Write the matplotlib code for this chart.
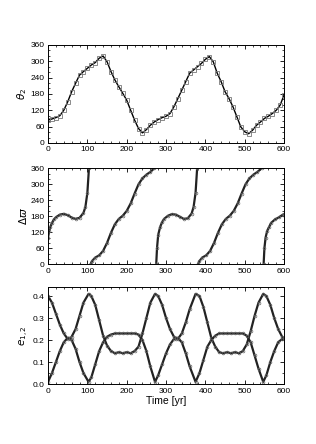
import numpy as np
import matplotlib
matplotlib.use('Agg')
import matplotlib.pyplot as plt
from matplotlib.ticker import MultipleLocator

plt.rcParams['font.family'] = ['Liberation Sans', 'DejaVu Sans']
plt.rcParams['mathtext.fontset'] = 'dejavusans'

# theta_2 (deg) vs time (yr)
th_t = [0, 10, 20, 30, 40, 50, 60, 70, 80, 90, 100, 110, 120, 130, 140, 150, 160, 170, 180, 190,
        200, 210, 220, 230, 240, 250, 260, 270, 280, 290, 300, 310, 320, 330, 340, 350, 360, 370,
        380, 390, 400, 410, 420, 430, 440, 450, 460, 470, 480, 490, 500, 510, 520, 530, 540, 550,
        560, 570, 580, 590, 600]
th_v = [84, 88, 93, 100, 120, 151, 188, 219, 249, 262, 274, 286, 295, 311, 319, 298, 262, 231, 206, 182,
        157, 120, 84, 53, 37, 49, 65, 77, 86, 93, 98, 108, 133, 163, 194, 225, 256, 268,
        280, 292, 307, 317, 298, 256, 225, 188, 163, 133, 96, 59, 41, 34, 47, 65, 77, 90,
        98, 108, 120, 139, 176]

# delta varpi (deg), NaN breaks at the 360 -> 0 wraps
nan = np.nan
dw_t = [0, 3, 6, 10, 15, 20, 30, 40, 50, 60, 70, 80, 90, 95, 100, 104, nan,
        108, 112, 120, 130, 140, 150, 160, 170, 180, 190, 200, 210, 220, 230, 240, 250, 260, 270, nan,
        275, 277, 280, 285, 290, 295, 305, 315, 325, 335, 345, 355, 365, 370, 375, 379, nan,
        381, 385, 392, 402, 412, 422, 432, 442, 452, 462, 472, 482, 492, 502, 512, 522, 532, 543, nan,
        548, 550, 553, 557, 562, 567, 577, 587, 597, 600]
dw_v = [100, 125, 140, 155, 168, 176, 186, 189, 184, 175, 170, 174, 192, 215, 268, 360, nan,
        0, 12, 25, 33, 50, 80, 118, 150, 170, 182, 200, 228, 265, 300, 322, 336, 346, 360, nan,
        0, 60, 110, 140, 158, 170, 182, 188, 186, 178, 170, 172, 190, 215, 268, 360, nan,
        0, 12, 25, 33, 50, 80, 118, 150, 170, 182, 200, 228, 265, 300, 322, 336, 346, 360, nan,
        0, 60, 100, 125, 140, 155, 168, 176, 186, 188]

# eccentricities
e_t = [0, 10, 20, 30, 40, 50, 55, 60, 70, 80, 90, 103, 110, 120, 130, 140, 150, 160, 170, 180,
       190, 200, 210, 220, 230, 240, 250, 260, 272, 280, 290, 300, 310, 320, 325, 330, 340, 350,
       360, 375, 385, 395, 405, 415, 425, 435, 445, 455, 465, 475, 485, 495, 505, 515, 525, 535,
       547, 555, 565, 575, 585, 595, 600]
e1 = [0.40, 0.37, 0.32, 0.27, 0.23, 0.205, 0.205, 0.215, 0.25, 0.31, 0.37, 0.41, 0.40, 0.36, 0.29, 0.22,
      0.175, 0.15, 0.14, 0.145, 0.14, 0.145, 0.14, 0.15, 0.17, 0.23, 0.30, 0.37, 0.41, 0.40, 0.36, 0.30,
      0.25, 0.215, 0.205, 0.205, 0.23, 0.28, 0.34, 0.41, 0.40, 0.35, 0.28, 0.21, 0.17, 0.145, 0.14,
      0.145, 0.14, 0.145, 0.14, 0.15, 0.18, 0.24, 0.31, 0.37, 0.41, 0.40, 0.36, 0.30, 0.25, 0.215, 0.205]
e2 = [0.01, 0.05, 0.10, 0.15, 0.19, 0.21, 0.21, 0.20, 0.16, 0.10, 0.05, 0.01, 0.03, 0.09, 0.15, 0.19,
      0.215, 0.225, 0.23, 0.23, 0.23, 0.23, 0.23, 0.23, 0.225, 0.20, 0.15, 0.08, 0.01, 0.04, 0.09, 0.14,
      0.18, 0.205, 0.21, 0.21, 0.19, 0.14, 0.08, 0.01, 0.05, 0.11, 0.17, 0.20, 0.22, 0.23, 0.23,
      0.23, 0.23, 0.23, 0.23, 0.23, 0.22, 0.19, 0.13, 0.07, 0.01, 0.04, 0.10, 0.15, 0.19, 0.205, 0.21]

fig = plt.figure(figsize=(3.16, 4.44), dpi=100)
ax1 = fig.add_axes([0.152, 0.678, 0.747, 0.221])
ax2 = fig.add_axes([0.152, 0.405, 0.747, 0.216])
ax3 = fig.add_axes([0.152, 0.135, 0.747, 0.218])

ax1.plot(th_t, th_v, '-', color='black', lw=1.0)
ax1.plot(th_t, th_v, 's', mfc='none', mec='#777777', ms=3, mew=0.6)
ax2.plot(dw_t, dw_v, '-', color='#222222', lw=1.6)
ax2.plot(dw_t, dw_v, 'o', mfc='none', mec='#666666', ms=2, mew=0.5)
for e in (e1, e2):
    ax3.plot(e_t, e, '-', color='#222222', lw=1.6)
    ax3.plot(e_t, e, 'o', mfc='none', mec='#666666', ms=2, mew=0.5)

for ax in (ax1, ax2, ax3):
    ax.set_xlim(0, 600)
    ax.xaxis.set_major_locator(MultipleLocator(100))
    ax.xaxis.set_minor_locator(MultipleLocator(20))
    ax.tick_params(which='both', direction='in', top=True, right=True, labelsize=6, pad=2.5)
    ax.tick_params(which='major', length=3, width=0.6)
    ax.tick_params(which='minor', length=1.5, width=0.5)
    for s in ax.spines.values():
        s.set_linewidth(0.7)

for ax in (ax1, ax2):
    ax.set_ylim(0, 360)
    ax.yaxis.set_major_locator(MultipleLocator(60))
    ax.yaxis.set_minor_locator(MultipleLocator(20))

ax3.set_ylim(0, 0.44)
ax3.yaxis.set_major_locator(MultipleLocator(0.1))
ax3.yaxis.set_minor_locator(MultipleLocator(0.05))
ax3.yaxis.set_major_formatter(plt.FormatStrFormatter('%.1f'))

ax1.set_ylabel(r'$\theta_2$', fontsize=7.5, labelpad=1)
ax2.set_ylabel(r'$\Delta\varpi$', fontsize=7.5, labelpad=1)
ax3.set_ylabel(r'$e_{1,2}$', fontsize=7.5, labelpad=1)
ax3.set_xlabel('Time [yr]', fontsize=7.5, labelpad=1)

fig.savefig('out.png', dpi=100)
